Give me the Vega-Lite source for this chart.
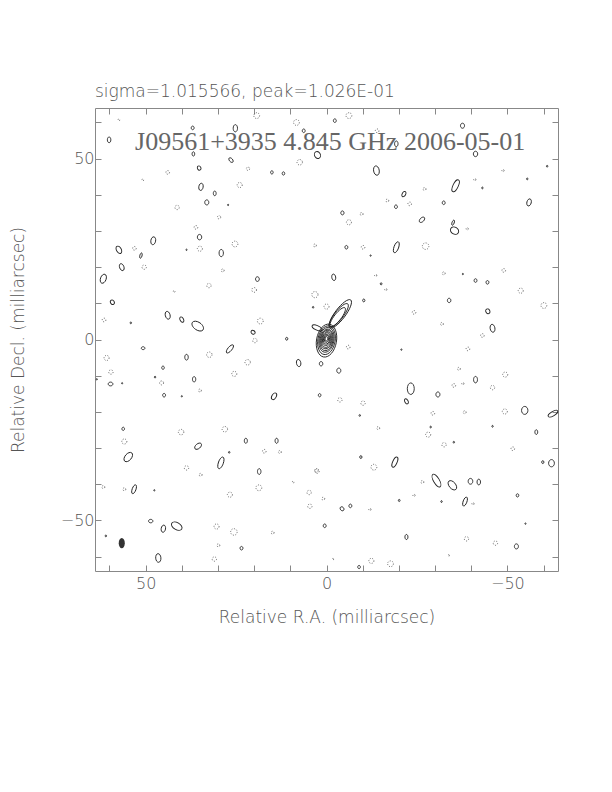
{
"$schema":"https://vega.github.io/schema/vega-lite/v6.json",
"width":463,"height":463,
"autosize":"none",
"padding":{"left":95,"top":108,"right":54,"bottom":221},
"background":"white",
"title":{"text":"sigma=1.015566, peak=1.026E-01","anchor":"start","frame":"group","offset":-6,"baseline":"alphabetic","font":"DejaVu Sans","fontSize":17,"fontWeight":200,"color":"#555"},
"config":{"view":{"stroke":"#888","strokeWidth":1},"axis":{"grid":false,"domain":false,"tickColor":"#888","tickSize":-6,"labelFont":"DejaVu Sans","labelFontSize":16,"labelFontWeight":200,"labelColor":"#555","titleFont":"DejaVu Sans","titleFontSize":17,"titleFontWeight":200,"titleColor":"#555"}},
"datasets":{
"c":[
{"t":"pos","x":60.1,"y":55.2,"d":1.6,"r":"e","a":0},
{"t":"pos","x":37.0,"y":58.5,"d":1.0,"r":"c","a":0},
{"t":"pos","x":25.2,"y":58.4,"d":2.0,"r":"e","a":0},
{"t":"pos","x":36.8,"y":51.3,"d":1.2,"r":"e","a":0},
{"t":"pos","x":26.4,"y":49.6,"d":1.5,"r":"e","a":-40},
{"t":"pos","x":35.2,"y":47.4,"d":1.2,"r":"c","a":-30},
{"t":"pos","x":15.1,"y":46.2,"d":0.9,"r":"c","a":0},
{"t":"pos","x":11.9,"y":45.9,"d":0.9,"r":"c","a":0},
{"t":"pos","x":34.7,"y":42.2,"d":2.0,"r":"e","a":10},
{"t":"pos","x":30.9,"y":40.4,"d":1.3,"r":"e","a":0},
{"t":"pos","x":33.1,"y":37.9,"d":1.4,"r":"c","a":0},
{"t":"pos","x":27.2,"y":37.2,"d":0.4,"r":"c","a":0},
{"t":"pos","x":35.1,"y":28.3,"d":1.5,"r":"c","a":0},
{"t":"pos","x":47.9,"y":27.3,"d":2.2,"r":"e","a":10},
{"t":"pos","x":57.4,"y":24.8,"d":2.2,"r":"e","a":-30},
{"t":"pos","x":38.7,"y":24.8,"d":0.4,"r":"c","a":0},
{"t":"pos","x":51.3,"y":23.2,"d":1.5,"r":"l","a":15},
{"t":"pos","x":29.1,"y":23.9,"d":2.0,"r":"e","a":0},
{"t":"pos","x":56.6,"y":20.0,"d":2.0,"r":"e","a":-20},
{"t":"pos","x":61.7,"y":16.8,"d":2.6,"r":"e","a":20},
{"t":"pos","x":19.1,"y":16.7,"d":1.3,"r":"c","a":0},
{"t":"pos","x":59.2,"y":10.3,"d":1.3,"r":"c","a":-30},
{"t":"pos","x":43.9,"y":6.7,"d":2.2,"r":"e","a":-15},
{"t":"pos","x":40.0,"y":5.5,"d":1.6,"r":"e","a":-30},
{"t":"pos","x":35.6,"y":3.7,"d":3.6,"r":"e","a":-55},
{"t":"pos","x":54.1,"y":4.6,"d":0.5,"r":"c","a":0},
{"t":"pos","x":20.3,"y":2.0,"d":1.2,"r":"c","a":-60},
{"t":"pos","x":6.3,"y":57.7,"d":1.0,"r":"c","a":0},
{"t":"pos","x":2.5,"y":51.0,"d":2.0,"r":"c","a":-30},
{"t":"pos","x":3.7,"y":8.9,"d":0.5,"r":"c","a":0},
{"t":"pos","x":11.0,"y":0.2,"d":0.8,"r":"c","a":0},
{"t":"pos","x":-2.3,"y":60.5,"d":1.0,"r":"c","a":0},
{"t":"pos","x":-37.6,"y":59.1,"d":1.4,"r":"c","a":0},
{"t":"pos","x":-19.3,"y":54.1,"d":1.6,"r":"e","a":0},
{"t":"pos","x":-41.2,"y":51.3,"d":1.5,"r":"c","a":0},
{"t":"pos","x":-13.8,"y":46.7,"d":2.6,"r":"e","a":-10},
{"t":"pos","x":-61.0,"y":47.9,"d":0.5,"r":"c","a":0},
{"t":"pos","x":-55.5,"y":44.4,"d":0.5,"r":"c","a":0},
{"t":"pos","x":-35.7,"y":42.5,"d":3.6,"r":"l","a":25},
{"t":"pos","x":-43.1,"y":41.9,"d":0.5,"r":"c","a":0},
{"t":"pos","x":-21.4,"y":40.2,"d":1.6,"r":"e","a":30},
{"t":"pos","x":-19.2,"y":36.7,"d":1.0,"r":"c","a":0},
{"t":"pos","x":-32.4,"y":37.8,"d":1.0,"r":"c","a":0},
{"t":"pos","x":-56.0,"y":37.9,"d":2.0,"r":"e","a":15},
{"t":"pos","x":-4.4,"y":35.0,"d":1.1,"r":"c","a":0},
{"t":"pos","x":-26.4,"y":33.1,"d":1.8,"r":"e","a":45},
{"t":"pos","x":-35.4,"y":30.1,"d":2.4,"r":"c","a":-60},
{"t":"pos","x":-35.0,"y":32.3,"d":1.5,"r":"l","a":20},
{"t":"pos","x":-19.3,"y":25.5,"d":3.2,"r":"l","a":20},
{"t":"pos","x":-5.5,"y":25.5,"d":1.0,"r":"c","a":0},
{"t":"pos","x":-12.2,"y":23.2,"d":0.4,"r":"c","a":0},
{"t":"pos","x":-2.0,"y":17.2,"d":1.8,"r":"e","a":-10},
{"t":"pos","x":-15.1,"y":15.4,"d":0.6,"r":"c","a":0},
{"t":"pos","x":-41.2,"y":16.3,"d":1.0,"r":"c","a":0},
{"t":"pos","x":-44.5,"y":15.8,"d":1.0,"r":"c","a":0},
{"t":"pos","x":-10.3,"y":10.8,"d":0.8,"r":"c","a":0},
{"t":"pos","x":-33.9,"y":10.8,"d":1.2,"r":"c","a":0},
{"t":"pos","x":-44.6,"y":7.8,"d":1.4,"r":"c","a":-30},
{"t":"pos","x":-45.9,"y":3.1,"d":2.2,"r":"e","a":-10},
{"t":"pos","x":-37.7,"y":18.1,"d":0.4,"r":"c","a":0},
{"t":"pos","x":50.7,"y":-2.4,"d":1.0,"r":"c","a":90},
{"t":"pos","x":38.7,"y":-4.9,"d":1.6,"r":"e","a":0},
{"t":"pos","x":26.7,"y":-2.6,"d":2.8,"r":"l","a":40},
{"t":"pos","x":7.7,"y":-6.5,"d":2.0,"r":"e","a":-10},
{"t":"pos","x":1.5,"y":-6.7,"d":1.2,"r":"c","a":0},
{"t":"pos","x":45.2,"y":-7.8,"d":0.9,"r":"c","a":0},
{"t":"pos","x":59.7,"y":-12.3,"d":1.3,"r":"c","a":90},
{"t":"pos","x":36.6,"y":-11.0,"d":1.5,"r":"e","a":0},
{"t":"pos","x":47.4,"y":-10.4,"d":0.5,"r":"c","a":0},
{"t":"pos","x":56.5,"y":-12.1,"d":0.4,"r":"c","a":0},
{"t":"pos","x":63.5,"y":-11.0,"d":0.4,"r":"c","a":0},
{"t":"pos","x":44.9,"y":-15.4,"d":1.0,"r":"c","a":0},
{"t":"pos","x":40.0,"y":-15.7,"d":0.4,"r":"c","a":0},
{"t":"pos","x":14.5,"y":-15.7,"d":2.0,"r":"e","a":30},
{"t":"pos","x":1.9,"y":-15.4,"d":0.9,"r":"c","a":0},
{"t":"pos","x":56.2,"y":-24.7,"d":0.9,"r":"c","a":0},
{"t":"pos","x":22.3,"y":-28.0,"d":1.4,"r":"e","a":0},
{"t":"pos","x":13.8,"y":-28.0,"d":1.4,"r":"e","a":0},
{"t":"pos","x":35.5,"y":-29.5,"d":2.2,"r":"e","a":50},
{"t":"pos","x":26.9,"y":-31.2,"d":0.5,"r":"c","a":0},
{"t":"pos","x":54.8,"y":-32.5,"d":3.0,"r":"e","a":40},
{"t":"pos","x":29.2,"y":-34.1,"d":3.4,"r":"l","a":20},
{"t":"pos","x":18.6,"y":-36.5,"d":1.6,"r":"e","a":0},
{"t":"pos","x":53.2,"y":-41.4,"d":2.6,"r":"l","a":20},
{"t":"pos","x":47.6,"y":-41.7,"d":0.4,"r":"c","a":0},
{"t":"pos","x":48.6,"y":-50.2,"d":1.2,"r":"c","a":90},
{"t":"pos","x":45.1,"y":-52.3,"d":2.0,"r":"e","a":10},
{"t":"pos","x":41.4,"y":-51.6,"d":3.2,"r":"e","a":-60},
{"t":"pos","x":61.0,"y":-54.3,"d":0.5,"r":"c","a":0},
{"t":"pos","x":23.5,"y":-57.7,"d":1.0,"r":"c","a":0},
{"t":"pos","x":46.5,"y":-60.4,"d":2.4,"r":"e","a":-5},
{"t":"pos","x":0.5,"y":-51.5,"d":1.0,"r":"c","a":0},
{"t":"pos","x":-3.4,"y":-8.6,"d":1.4,"r":"c","a":0},
{"t":"pos","x":-23.3,"y":-13.6,"d":3.2,"r":"e","a":0},
{"t":"pos","x":-22.1,"y":-17.1,"d":1.5,"r":"e","a":-30},
{"t":"pos","x":-30.8,"y":-15.2,"d":1.4,"r":"c","a":0},
{"t":"pos","x":-41.2,"y":-11.1,"d":1.8,"r":"e","a":0},
{"t":"pos","x":-54.8,"y":-19.6,"d":2.2,"r":"c","a":0},
{"t":"pos","x":-62.6,"y":-20.5,"d":3.0,"r":"l","a":60},
{"t":"pos","x":-58.0,"y":-25.6,"d":1.3,"r":"e","a":0},
{"t":"pos","x":-45.9,"y":-24.0,"d":0.5,"r":"c","a":0},
{"t":"pos","x":-35.2,"y":-28.4,"d":0.5,"r":"c","a":0},
{"t":"pos","x":-28.8,"y":-24.2,"d":0.5,"r":"c","a":0},
{"t":"pos","x":-9.2,"y":-21.0,"d":0.5,"r":"c","a":0},
{"t":"pos","x":-20.7,"y":-2.8,"d":0.4,"r":"c","a":0},
{"t":"pos","x":-9.5,"y":-32.5,"d":0.8,"r":"c","a":0},
{"t":"pos","x":-18.9,"y":-33.9,"d":3.0,"r":"l","a":25},
{"t":"pos","x":-30.4,"y":-39.0,"d":4.0,"r":"l","a":-30},
{"t":"pos","x":-34.8,"y":-40.3,"d":3.0,"r":"e","a":-40},
{"t":"pos","x":-39.8,"y":-39.2,"d":1.6,"r":"c","a":0},
{"t":"pos","x":-42.1,"y":-39.4,"d":1.6,"r":"e","a":0},
{"t":"pos","x":-62.2,"y":-34.2,"d":2.0,"r":"c","a":0},
{"t":"pos","x":-59.8,"y":-33.9,"d":0.8,"r":"c","a":0},
{"t":"pos","x":-52.8,"y":-43.1,"d":0.9,"r":"c","a":0},
{"t":"pos","x":-38.3,"y":-44.8,"d":2.6,"r":"l","a":20},
{"t":"pos","x":-20.1,"y":-44.5,"d":0.6,"r":"c","a":0},
{"t":"pos","x":-31.8,"y":-44.8,"d":0.5,"r":"c","a":0},
{"t":"pos","x":-4.3,"y":-46.8,"d":1.2,"r":"c","a":-40},
{"t":"pos","x":-6.6,"y":-46.0,"d":1.0,"r":"c","a":0},
{"t":"pos","x":-22.1,"y":-54.6,"d":1.4,"r":"e","a":0},
{"t":"pos","x":-55.0,"y":-50.9,"d":0.4,"r":"c","a":0},
{"t":"pos","x":-52.5,"y":-57.2,"d":1.4,"r":"c","a":0},
{"t":"pos","x":-9.0,"y":-62.9,"d":0.9,"r":"c","a":0},
{"t":"pos","x":0.0,"y":0.2,"d":1.2,"r":"e","a":8},
{"t":"pos","x":0.0,"y":0.2,"d":2.0,"r":"e","a":8},
{"t":"pos","x":0.0,"y":0.1,"d":2.8,"r":"e","a":8},
{"t":"pos","x":0.0,"y":0.1,"d":3.6,"r":"e","a":9},
{"t":"pos","x":0.0,"y":0.0,"d":4.4,"r":"e","a":9},
{"t":"pos","x":0.0,"y":0.0,"d":5.2,"r":"e","a":10},
{"t":"pos","x":0.0,"y":-0.1,"d":6.0,"r":"e","a":10},
{"t":"pos","x":0.0,"y":-0.1,"d":6.9,"r":"e","a":10},
{"t":"pos","x":0.0,"y":-0.2,"d":8.0,"r":"e","a":10},
{"t":"pos","x":0.0,"y":-0.3,"d":9.2,"r":"e","a":10},
{"t":"pos","x":-3.1,"y":6.2,"d":6.5,"r":"j","a":38},
{"t":"pos","x":-3.4,"y":6.7,"d":8.0,"r":"j","a":38},
{"t":"pos","x":-3.8,"y":7.1,"d":9.6,"r":"j","a":37},
{"t":"pos","x":2.6,"y":3.2,"d":3.0,"r":"l","a":-65},
{"t":"neg","x":19.3,"y":61.9,"d":1.6},{"t":"neg","x":8.3,"y":60,"d":1.6},{"t":"neg","x":7.4,"y":49,"d":1.5},{"t":"neg","x":21.7,"y":47.2,"d":0.9},{"t":"neg","x":43.9,"y":46.2,"d":1.0},{"t":"neg","x":24,"y":42.7,"d":1.4},{"t":"neg","x":41.3,"y":36.5,"d":1.2},{"t":"neg","x":29.7,"y":33.8,"d":0.9},{"t":"neg","x":36.1,"y":31,"d":1.0},{"t":"neg","x":35,"y":25.1,"d":1.4},{"t":"neg","x":25.3,"y":26.4,"d":1.6},{"t":"neg","x":53.1,"y":25.2,"d":1.0},{"t":"neg","x":50.4,"y":20,"d":1.2},{"t":"neg","x":28.7,"y":19.1,"d":0.8},{"t":"neg","x":32.5,"y":14.9,"d":1.2},{"t":"neg","x":20,"y":13.7,"d":1.3},{"t":"neg","x":3.2,"y":12.4,"d":1.7},{"t":"neg","x":0,"y":9.1,"d":1.4},{"t":"neg","x":61.5,"y":5.4,"d":1.0},{"t":"neg","x":18.3,"y":5.1,"d":1.6},{"t":"neg","x":42.1,"y":13.3,"d":0.5},{"t":"neg","x":50.8,"y":44.1,"d":0.5},{"t":"neg","x":57.4,"y":60.7,"d":0.5},{"t":"neg","x":3.2,"y":26,"d":0.8},
{"t":"neg","x":-6.2,"y":61.9,"d":1.6},{"t":"neg","x":-14,"y":57.7,"d":1.0},{"t":"neg","x":-27.1,"y":41.6,"d":0.8},{"t":"neg","x":-23,"y":37.5,"d":1.0},{"t":"neg","x":-16.8,"y":38.4,"d":0.8},{"t":"neg","x":-6.2,"y":32.4,"d":1.4},{"t":"neg","x":-9.7,"y":34.7,"d":0.8},{"t":"neg","x":-27.4,"y":25.8,"d":1.8},{"t":"neg","x":-41,"y":44.2,"d":0.6},{"t":"neg","x":-48.8,"y":46.7,"d":0.6},{"t":"neg","x":-38.9,"y":30.6,"d":0.6},{"t":"neg","x":-32.4,"y":18.3,"d":0.8},{"t":"neg","x":-49,"y":19.1,"d":1.0},{"t":"neg","x":-53.7,"y":13.5,"d":1.4},{"t":"neg","x":-60.1,"y":9.4,"d":1.6},{"t":"neg","x":-24.2,"y":7.5,"d":1.0},{"t":"neg","x":-31.9,"y":4.3,"d":0.8},{"t":"neg","x":-43.1,"y":1.1,"d":1.0},{"t":"neg","x":-10.1,"y":25.5,"d":1.0},{"t":"neg","x":-13.6,"y":17.7,"d":0.6},{"t":"neg","x":-16.4,"y":13.8,"d":0.6},
{"t":"neg","x":60.8,"y":-5.1,"d":1.4},{"t":"neg","x":32.4,"y":-4.2,"d":1.5},{"t":"neg","x":19.8,"y":-0.3,"d":1.2},{"t":"neg","x":21.8,"y":-6.3,"d":1.5},{"t":"neg","x":59.6,"y":-9,"d":1.2},{"t":"neg","x":25.5,"y":-9.5,"d":1.4},{"t":"neg","x":45.6,"y":-12,"d":1.1},{"t":"neg","x":35,"y":-14.1,"d":0.8},{"t":"neg","x":40.2,"y":-25.6,"d":1.5},{"t":"neg","x":28.1,"y":-24.8,"d":1.5},{"t":"neg","x":55.9,"y":-28.2,"d":1.4},{"t":"neg","x":17.2,"y":-30.9,"d":1.0},{"t":"neg","x":12.9,"y":-31.1,"d":0.8},{"t":"neg","x":38.7,"y":-35.5,"d":1.2},{"t":"neg","x":34.8,"y":-37.4,"d":0.8},{"t":"neg","x":18.7,"y":-41,"d":1.6},{"t":"neg","x":26.7,"y":-42.9,"d":1.4},{"t":"neg","x":55.9,"y":-41.4,"d":0.8},{"t":"neg","x":61.7,"y":-40.8,"d":0.8},{"t":"neg","x":2.6,"y":-36.4,"d":1.2},{"t":"neg","x":4.8,"y":-42.3,"d":1.2},{"t":"neg","x":4.6,"y":-46.1,"d":1.2},{"t":"neg","x":30.4,"y":-51.7,"d":1.4},{"t":"neg","x":25.6,"y":-53.2,"d":1.8},{"t":"neg","x":14.9,"y":-53.4,"d":0.8},{"t":"neg","x":31,"y":-60.7,"d":1.2},{"t":"neg","x":29.9,"y":-56.9,"d":0.8},{"t":"neg","x":9.2,"y":-39.4,"d":0.5},
{"t":"neg","x":-6,"y":-2.1,"d":1.0},{"t":"neg","x":-39.1,"y":-2.6,"d":1.0},{"t":"neg","x":-36.6,"y":-8.1,"d":0.8},{"t":"neg","x":-35.2,"y":-12.7,"d":1.0},{"t":"neg","x":-37.7,"y":-12.2,"d":0.6},{"t":"neg","x":-49.4,"y":-9.7,"d":1.4},{"t":"neg","x":-45.9,"y":-13.3,"d":1.2},{"t":"neg","x":-3.7,"y":-16.7,"d":1.2},{"t":"neg","x":-10.1,"y":-17.6,"d":1.2},{"t":"neg","x":-29.4,"y":-20.4,"d":1.0},{"t":"neg","x":-38.2,"y":-20.1,"d":0.8},{"t":"neg","x":-49.3,"y":-19.9,"d":1.4},{"t":"neg","x":-14.3,"y":-24.5,"d":0.8},{"t":"neg","x":-28.1,"y":-26.3,"d":1.4},{"t":"neg","x":-32.5,"y":-29.1,"d":1.2},{"t":"neg","x":-51.5,"y":-30.2,"d":1.0},{"t":"neg","x":-13.1,"y":-35.3,"d":1.6},{"t":"neg","x":2.8,"y":-36.2,"d":1.0},{"t":"neg","x":-26.5,"y":-39.4,"d":0.8},{"t":"neg","x":0.9,"y":-44,"d":0.8},{"t":"neg","x":-12,"y":-47,"d":0.6},{"t":"neg","x":-24.2,"y":-43.1,"d":0.6},{"t":"neg","x":-40.5,"y":-45.4,"d":0.6},{"t":"neg","x":-38.7,"y":-55.1,"d":1.2},{"t":"neg","x":-46.7,"y":-56.3,"d":1.2},{"t":"neg","x":-12.4,"y":-61.2,"d":1.4},{"t":"neg","x":-17.7,"y":-62,"d":1.6},{"t":"neg","x":-33.8,"y":-59.7,"d":0.4},{"t":"neg","x":-1.8,"y":-60.7,"d":0.4},
{"t":"beam","x":56.6,"y":-56.3,"d":2.8}
],
"lbl":[{"label":"J09561+3935 4.845 GHz  2006-05-01","x":-1.0,"y":54.6}]
},
"layer":[
{"data":{"name":"c"},"transform":[{"filter":"datum.t==='pos'"}],
 "mark":{"type":"point","filled":false,"stroke":"#222","strokeWidth":0.9,"opacity":1},
 "encoding":{
  "x":{"field":"x","type":"quantitative","scale":{"domain":[64,-64],"nice":false,"zero":false},
   "axis":{"orient":"bottom","values":[-60,-50,-40,-30,-20,-10,0,10,20,30,40,50,60],"labelExpr":"datum.value % 50 === 0 ? datum.label : ''","labelPadding":10,"title":"Relative R.A. (milliarcsec)","titleX":231.5,"titleY":46,"titleBaseline":"middle","titleAlign":"center"}},
  "y":{"field":"y","type":"quantitative","scale":{"domain":[-64,64],"nice":false,"zero":false},
   "axis":{"orient":"left","values":[-60,-50,-40,-30,-20,-10,0,10,20,30,40,50,60],"labelExpr":"datum.value % 50 === 0 ? datum.label : ''","labelPadding":7,"title":"Relative Decl. (milliarcsec)","titleX":-77,"titleY":231.5,"titleBaseline":"middle","titleAlign":"center","titleAngle":-90}},
  "size":{"field":"d","type":"quantitative","scale":{"type":"pow","exponent":2,"domain":[0,10],"range":[0,1310]},"legend":null},
  "shape":{"field":"r","type":"nominal","scale":{"domain":["c","e","l","j"],"range":["M-0.8,0A0.8,1,0,1,0,0.8,0A0.8,1,0,1,0,-0.8,0Z","M-0.6,0A0.6,1,0,1,0,0.6,0A0.6,1,0,1,0,-0.6,0Z","M-0.4,0A0.4,1,0,1,0,0.4,0A0.4,1,0,1,0,-0.4,0Z","M-0.3,0A0.3,1,0,1,0,0.3,0A0.3,1,0,1,0,-0.3,0Z"]},"legend":null},
  "angle":{"field":"a","type":"quantitative","scale":null}
 }},
{"data":{"name":"c"},"transform":[{"filter":"datum.t==='neg'"}],
 "mark":{"type":"point","filled":false,"shape":"circle","stroke":"#444","strokeWidth":0.8,"strokeDash":[1,1.5],"opacity":1},
 "encoding":{
  "x":{"field":"x","type":"quantitative","axis":{"orient":"top","values":[-60,-50,-40,-30,-20,-10,0,10,20,30,40,50,60],"labels":false,"title":null}},
  "y":{"field":"y","type":"quantitative","axis":{"orient":"right","values":[-60,-50,-40,-30,-20,-10,0,10,20,30,40,50,60],"labels":false,"title":null}},
  "size":{"field":"d","type":"quantitative","legend":null}
 }},
{"data":{"name":"c"},"transform":[{"filter":"datum.t==='beam'"}],
 "mark":{"type":"point","filled":true,"color":"#333","opacity":1,"shape":"M-0.6,0A0.6,1,0,1,0,0.6,0A0.6,1,0,1,0,-0.6,0Z"},
 "encoding":{
  "x":{"field":"x","type":"quantitative","axis":null},
  "y":{"field":"y","type":"quantitative","axis":null},
  "size":{"field":"d","type":"quantitative","legend":null}
 }},
{"data":{"name":"lbl"},
 "mark":{"type":"text","font":"Liberation Serif","fontSize":26,"color":"#666","baseline":"middle","align":"center"},
 "encoding":{
  "x":{"field":"x","type":"quantitative","axis":null},
  "y":{"field":"y","type":"quantitative","axis":null},
  "text":{"field":"label"}
 }}
],
"resolve":{"axis":{"x":"independent","y":"independent"}}
}
